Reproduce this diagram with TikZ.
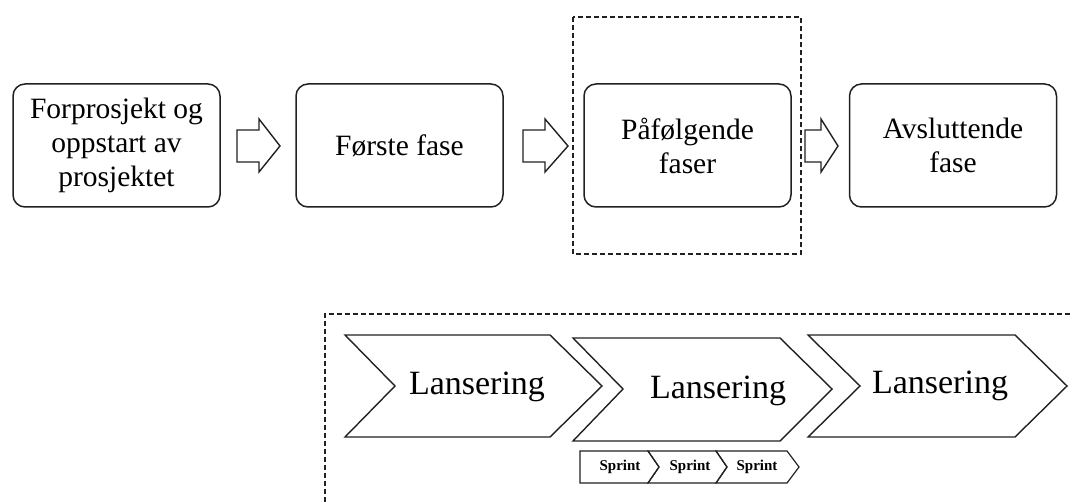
\documentclass[tikz,border=0pt]{standalone}
\usepackage{fontspec}
\setmainfont{Liberation Serif}
\usepackage{tikz}
\usetikzlibrary{positioning}

\begin{document}
\begin{tikzpicture}[x=1pt,y=-1pt,
  fase/.style={draw=clinje,line width=1.5pt,rounded corners=12pt,
    minimum width=207pt,minimum height=123pt,align=center,
    font=\fontsize{29.5}{34}\selectfont},
  pil/.style={draw=clinje,line width=1.4pt,fill=white,line join=miter},
  lansering/.style={draw=clinje,line width=1.4pt,line join=miter},
  sprint/.style={draw=clinje,line width=1.2pt,line join=miter},
  stiplet/.style={draw=clinje,line width=1.3pt,dash pattern=on 5pt off 3pt},
  tekst/.style={inner sep=0pt,font=\fontsize{34}{38}\selectfont},
  stekst/.style={inner sep=0pt,font=\bfseries\fontsize{15}{17}\selectfont}]
%
\useasboundingbox (0,0) rectangle (1073,502);
%
\definecolor{clinje}{rgb}{0.13,0.13,0.13}
%
\node[fase] (f1) at (116.5,145.5) {Forprosjekt og\\oppstart av\\prosjektet};
\node[fase] (f2) at (399.5,145.5) {Første fase};
\node[fase] (f3) at (687.5,145.5) {Påfølgende\\faser};
\node[fase] (f4) at (953,145.5) {Avsluttende\\fase};
%
\draw[stiplet] (573,17) rectangle (801,254);
%
\draw[pil] (237,130) -- (259,130) -- (259,119) -- (280,146) -- (259,172) -- (259,162) -- (237,162) -- cycle;
\draw[pil] (523,130) -- (545,130) -- (545,119) -- (568,146) -- (545,172) -- (545,162) -- (523,162) -- cycle;
\draw[pil] (805,130) -- (821,130) -- (821,119) -- (838,146) -- (821,172) -- (821,162) -- (805,162) -- cycle;
%
\draw[stiplet] (325,502) -- (325,314) -- (1073,314);
%
\draw[lansering] (345,335) -- (550,335) -- (602,386) -- (550,437) -- (345,437) -- (395,386) -- cycle;
\draw[lansering] (573,338) -- (780,338) -- (832,389) -- (780,441) -- (573,441) -- (623,389) -- cycle;
\draw[lansering] (808,335) -- (1015,335) -- (1067,386) -- (1015,437) -- (808,437) -- (860,386) -- cycle;
\node[tekst] (l1) at (477,387) {Lansering};
\node[tekst] (l2) at (718,391) {Lansering};
\node[tekst] (l3) at (940,386) {Lansering};
%
\draw[sprint] (580,451) -- (648,451) -- (659,467) -- (648,483) -- (580,483) -- cycle;
\draw[sprint] (648,451) -- (716,451) -- (727,467) -- (716,483) -- (648,483) -- (659,467) -- cycle;
\draw[sprint] (716,451) -- (787,451) -- (799,467) -- (787,483) -- (716,483) -- (727,467) -- cycle;
\node[stekst] (s1) at (620,467) {Sprint};
\node[stekst] (s2) at (690,467) {Sprint};
\node[stekst] (s3) at (757,467) {Sprint};
%
\end{tikzpicture}
\end{document}
